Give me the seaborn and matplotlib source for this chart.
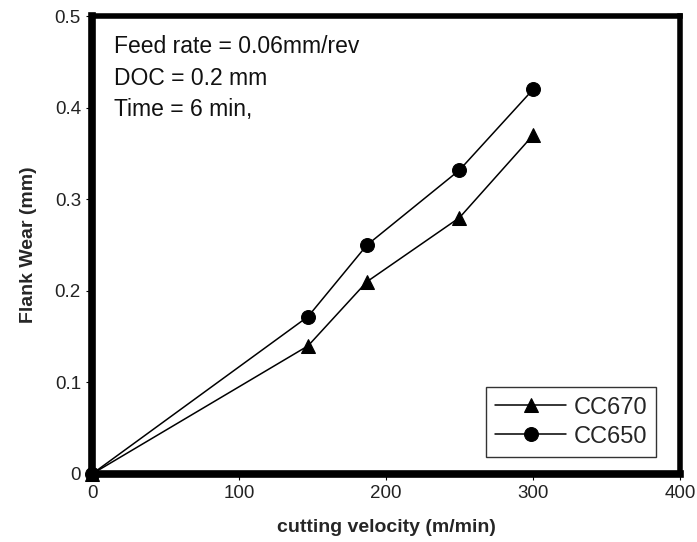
import numpy as np
import pandas as pd
import matplotlib
matplotlib.use("Agg")
import matplotlib.pyplot as plt
import seaborn as sns

# dane
velocity = [0, 147, 187, 250, 300]
wear_cc670 = [0, 0.14, 0.21, 0.28, 0.37]
wear_cc650 = [0, 0.172, 0.25, 0.332, 0.42]
series = ["CC670", "CC650"]
x_ticks = [0, 100, 200, 300, 400]
y_ticks = [0, 0.1, 0.2, 0.3, 0.4, 0.5]
y_labels = ["0", "0.1", "0.2", "0.3", "0.4", "0.5"]

df = pd.DataFrame({
    "v": velocity * 2,
    "wear": wear_cc670 + wear_cc650,
    "tool": [series[0]] * len(velocity) + [series[1]] * len(velocity),
})

sns.set_style("white")
plt.rcParams["font.family"] = ["Liberation Sans", "DejaVu Sans"]

fig = plt.figure(figsize=(6.97, 5.42), dpi=100)
ax = fig.add_axes([0.132, 0.1255, 0.8436, 0.8445])

sns.lineplot(data=df, x="v", y="wear", hue="tool", style="tool",
             palette={"CC670": "black", "CC650": "black"},
             markers={"CC670": "^", "CC650": "o"},
             dashes=False, markersize=10, linewidth=1.1,
             markeredgecolor="black", clip_on=False, ax=ax)

ax.set_xlim(0, 400)
ax.set_ylim(0, 0.5)
ax.set_xticks(x_ticks)
ax.set_yticks(y_ticks)
ax.set_yticklabels(y_labels)
ax.tick_params(labelsize=13.5, length=4, width=0.8, direction="out",
               bottom=True, left=True, colors="black", pad=4)
for lbl in ax.get_xticklabels() + ax.get_yticklabels():
    lbl.set_color("#222222")

for side in ["left", "bottom"]:
    ax.spines[side].set_linewidth(5.5)
for side in ["top", "right"]:
    ax.spines[side].set_linewidth(4)
for s in ax.spines.values():
    s.set_color("black")
    s.set_visible(True)

ax.set_xlabel("cutting velocity (m/min)", fontsize=14, fontweight="bold", labelpad=12)
ax.set_ylabel("Flank Wear (mm)", fontsize=14, fontweight="bold", labelpad=13)

ax.text(0.038, 0.958, "Feed rate = 0.06mm/rev\nDOC = 0.2 mm\nTime = 6 min,",
        transform=ax.transAxes, fontsize=16.5, va="top", ha="left",
        linespacing=1.45, color="#111111")

leg = ax.legend(loc="lower right", bbox_to_anchor=(0.96, 0.037), fontsize=17,
                frameon=True, fancybox=False, edgecolor="black",
                handlelength=3.0, borderpad=0.4, labelspacing=0.3,
                handletextpad=0.3, borderaxespad=0)
leg.get_frame().set_linewidth(1.0)
leg.set_title(None)

plt.savefig("out.png", dpi=100)
